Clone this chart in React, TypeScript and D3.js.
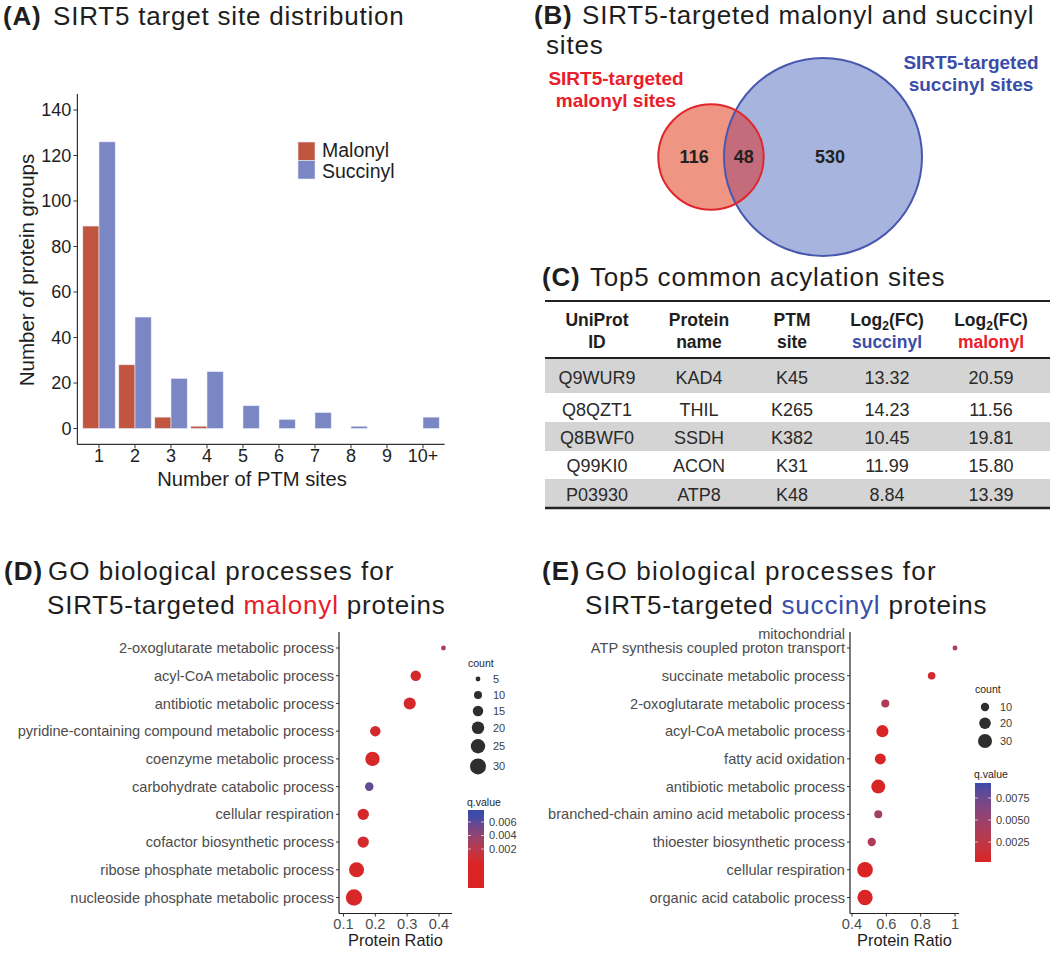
import React from 'react';
import * as d3 from 'd3';

const FONT = "'Liberation Sans', Arial, Helvetica, sans-serif";

// ---------- Panel A data ----------
const siteCategories = ['1', '2', '3', '4', '5', '6', '7', '8', '9', '10+'];
const aSeries = ['Malonyl', 'Succinyl'];
const malonylCounts = [89, 28, 5, 1, 0, 0, 0, 0, 0, 0];
const succinylCounts = [126, 49, 22, 25, 10, 4, 7, 1, 0, 5];
const aYTicks = [0, 20, 40, 60, 80, 100, 120, 140];

// ---------- Panel B data ----------
const vennSets = ['SIRT5-targeted malonyl sites', 'SIRT5-targeted succinyl sites'];
const vennCounts = [116, 48, 530]; // malonyl only, both, succinyl only

// ---------- Panel C data ----------
const tableIds = ['Q9WUR9', 'Q8QZT1', 'Q8BWF0', 'Q99KI0', 'P03930'];
const tableNames = ['KAD4', 'THIL', 'SSDH', 'ACON', 'ATP8'];
const tableSites = ['K45', 'K265', 'K382', 'K31', 'K48'];
const tableSucc = ['13.32', '14.23', '10.45', '11.99', '8.84'];
const tableMal = ['20.59', '11.56', '19.81', '15.80', '13.39'];

// ---------- Panel D data ----------
const dTerms = [
  '2-oxoglutarate metabolic process',
  'acyl-CoA metabolic process',
  'antibiotic metabolic process',
  'pyridine-containing compound metabolic process',
  'coenzyme metabolic process',
  'carbohydrate catabolic process',
  'cellular respiration',
  'cofactor biosynthetic process',
  'ribose phosphate metabolic process',
  'nucleoside phosphate metabolic process',
];
const dRatio = [0.414, 0.327, 0.308, 0.2, 0.191, 0.181, 0.162, 0.162, 0.141, 0.133];
const dCount = [5, 15, 19, 15, 25, 11, 17, 17, 27, 31];
const dQ = [0.0025, 0.0003, 0.0003, 0.0004, 0.0002, 0.0058, 0.0003, 0.0004, 0.0002, 0.0002];
const dXTicks = [0.1, 0.2, 0.3, 0.4];
const dCountBreaks = [5, 10, 15, 20, 25, 30];
const dQBreaks = [0.002, 0.004, 0.006];

// ---------- Panel E data ----------
const eTerms = [
  'mitochondrial\nATP synthesis coupled proton transport',
  'succinate metabolic process',
  '2-oxoglutarate metabolic process',
  'acyl-CoA metabolic process',
  'fatty acid oxidation',
  'antibiotic metabolic process',
  'branched-chain amino acid metabolic process',
  'thioester biosynthetic process',
  'cellular respiration',
  'organic acid catabolic process',
];
const eRatio = [1.0, 0.864, 0.594, 0.577, 0.565, 0.553, 0.553, 0.515, 0.476, 0.476];
const eCount = [3, 8, 9, 22, 18, 30, 9, 10, 38, 36];
const eQ = [0.0037, 0.0008, 0.0036, 0.0004, 0.0004, 0.0004, 0.0044, 0.0035, 0.0003, 0.0003];
const eXTicks = [0.4, 0.6, 0.8, 1.0];
const eCountBreaks = [10, 20, 30];
const eQBreaks = [0.0025, 0.005, 0.0075];

// ---------- colours ----------
const MAL_COL = '#C0563F';
const SUC_COL = '#7B87C4';
const RED_TXT = '#E8202A';
const BLUE_TXT = '#3A4DA8';
const Q_LOW = '#DA2424';
const Q_HIGH = '#3A4BA8';
const TXT = '#1E1E1E';
const GRAY_TXT = '#4D4D4D';

function Title({ x1, x2, y, tag, children, spacing = 0.8 }: any) {
  return (
    <text y={y} fontSize={26} letterSpacing={spacing} fill={TXT}>
      <tspan x={x1} fontWeight="bold">{tag}</tspan>
      <tspan x={x2}>{children}</tspan>
    </text>
  );
}

function PanelA() {
  const x = d3.scaleBand().domain(siteCategories).range([81, 441]);
  const step = x.step();
  const inner = d3.scaleBand().domain(aSeries).range([0, step * 0.9]);
  const y = d3.scaleLinear().domain([0, 140]).range([428.5, 110]);
  const colors = [MAL_COL, SUC_COL];
  const values = [malonylCounts, succinylCounts];
  const left = (x(siteCategories[0]) as number) - step * 0.1;
  const right = (x(siteCategories[siteCategories.length - 1]) as number) + step * 1.1;
  return (
    <g>
      <Title x1={3} x2={53} y={25} tag="(A)">SIRT5 target site distribution</Title>
      {values.map((vals, si) =>
        vals.map((v, i) =>
          v > 0 ? (
            <rect
              key={`${si}-${i}`}
              x={(x(siteCategories[i]) as number) + step * 0.05 + (inner(aSeries[si]) as number)}
              y={y(v)}
              width={inner.bandwidth()}
              height={y(0) - y(v)}
              fill={colors[si]}
              stroke="#E8EAF6"
              strokeWidth={0.6}
            />
          ) : null
        )
      )}
      {/* axes */}
      <line x1={left} x2={left} y1={y(147)} y2={y(-7)} stroke="#333" strokeWidth={1.2} />
      <line x1={left} x2={right} y1={y(-7)} y2={y(-7)} stroke="#333" strokeWidth={1.2} />
      {aYTicks.map((t) => (
        <g key={t}>
          <line x1={left - 4} x2={left} y1={y(t)} y2={y(t)} stroke="#333" strokeWidth={1} />
          <text x={left - 6} y={y(t)} dy="0.35em" textAnchor="end" fontSize={18} fill={TXT}>
            {t}
          </text>
        </g>
      ))}
      {siteCategories.map((c) => {
        const cx = (x(c) as number) + step / 2;
        return (
          <g key={c}>
            <line x1={cx} x2={cx} y1={y(-7)} y2={y(-7) + 4} stroke="#333" strokeWidth={1} />
            <text x={cx} y={461.5} textAnchor="middle" fontSize={18} fill={TXT}>
              {c}
            </text>
          </g>
        );
      })}
      <text x={252} y={486} textAnchor="middle" fontSize={20.2} fill={TXT}>
        Number of PTM sites
      </text>
      <text transform="translate(27,270) rotate(-90)" dy="0.35em" textAnchor="middle" fontSize={20.5} fill={TXT}>
        Number of protein groups
      </text>
      {/* legend */}
      {aSeries.map((s, i) => (
        <g key={s}>
          <rect x={298} y={142 + i * 18.5} width={17} height={18.5} fill={colors[i]} stroke="#E8EAF6" strokeWidth={0.6} />
          <text x={322} y={157 + i * 21} fontSize={19.5} fill={TXT}>
            {s}
          </text>
        </g>
      ))}
    </g>
  );
}

function PanelB() {
  const totals = [vennCounts[0] + vennCounts[1], vennCounts[1] + vennCounts[2]];
  const r = d3.scaleSqrt().domain([0, totals[1]]).range([0, 99]);
  const rR = r(totals[0]);
  const rB = r(totals[1]);
  const bx = 823, by = 157;
  const rx = bx - 112, ry = 157;
  const redOnlyX = (rx - rR + (bx - rB)) / 2 + 3;
  const bothX = (bx - rB + rx + rR) / 2;
  const sucOnlyX = bx + 7;
  const malLines = vennSets[0].replace('targeted ', 'targeted\n').split('\n');
  const sucLines = vennSets[1].replace('targeted ', 'targeted\n').split('\n');
  return (
    <g>
      <Title x1={534} x2={582} y={24} tag="(B)">SIRT5-targeted malonyl and succinyl</Title>
      <text x={546} y={54} fontSize={26} letterSpacing={0.8} fill={TXT}>sites</text>
      <defs>
        <clipPath id="redClip">
          <circle cx={rx} cy={ry} r={rR} />
        </clipPath>
      </defs>
      <circle cx={rx} cy={ry} r={rR} fill="#EE9584" />
      <circle cx={bx} cy={by} r={rB} fill="#A7B4DE" />
      <circle cx={bx} cy={by} r={rB} fill="#C46C7B" clipPath="url(#redClip)" />
      <circle cx={bx} cy={by} r={rB} fill="none" stroke="#4858B0" strokeWidth={2} />
      <circle cx={rx} cy={ry} r={rR} fill="none" stroke="#E0262A" strokeWidth={2} />
      <g fontSize={18} fontWeight="bold" fill="#222" textAnchor="middle">
        <text x={redOnlyX} y={by} dy="0.36em">{vennCounts[0]}</text>
        <text x={bothX} y={by} dy="0.36em">{vennCounts[1]}</text>
        <text x={sucOnlyX} y={by} dy="0.36em">{vennCounts[2]}</text>
      </g>
      <g fontSize={19} fontWeight="bold" textAnchor="middle">
        {malLines.map((l, i) => (
          <text key={l} x={616} y={85 + i * 22} fill={RED_TXT}>{l}</text>
        ))}
        {sucLines.map((l, i) => (
          <text key={l} x={971} y={69 + i * 22} fill={BLUE_TXT}>{l}</text>
        ))}
      </g>
    </g>
  );
}

function PanelC() {
  const cols = [597, 699, 792, 887, 991];
  const rowTops = [359, 393, 422, 451, 479];
  const rowBottoms = [393, 422, 451, 479, 507];
  const baselines = [384, 416, 444, 472, 501];
  const rows = tableIds.map((id, i) => [id, tableNames[i], tableSites[i], tableSucc[i], tableMal[i]]);
  return (
    <g>
      <Title x1={542} x2={590} y={286} tag="(C)">Top5 common acylation sites</Title>
      {rows.map((_, i) =>
        i % 2 === 0 ? (
          <rect key={i} x={545} y={rowTops[i]} width={505} height={rowBottoms[i] - rowTops[i]} fill="#D4D4D4" />
        ) : null
      )}
      <line x1={545} x2={1050} y1={301} y2={301} stroke="#222" strokeWidth={2} />
      <line x1={545} x2={1050} y1={358} y2={358} stroke="#222" strokeWidth={2} />
      <line x1={545} x2={1050} y1={508} y2={508} stroke="#222" strokeWidth={2.5} />
      <g fontSize={17.5} fontWeight="bold" fill={TXT} textAnchor="middle">
        <text x={cols[0]} y={326}>UniProt</text>
        <text x={cols[0]} y={348}>ID</text>
        <text x={cols[1]} y={326}>Protein</text>
        <text x={cols[1]} y={348}>name</text>
        <text x={cols[2]} y={326}>PTM</text>
        <text x={cols[2]} y={348}>site</text>
        <text x={cols[3]} y={326}>
          Log<tspan fontSize={12} dy={4}>2</tspan>
          <tspan dy={-4}>(FC)</tspan>
        </text>
        <text x={cols[3]} y={348} fill={BLUE_TXT}>succinyl</text>
        <text x={cols[4]} y={326}>
          Log<tspan fontSize={12} dy={4}>2</tspan>
          <tspan dy={-4}>(FC)</tspan>
        </text>
        <text x={cols[4]} y={348} fill={RED_TXT}>malonyl</text>
      </g>
      <g fontSize={18} fill="#2A2A2A" textAnchor="middle">
        {rows.map((row, i) =>
          row.map((cell, j) => (
            <text key={`${i}-${j}`} x={cols[j]} y={baselines[i]}>
              {cell}
            </text>
          ))
        )}
      </g>
    </g>
  );
}

function DotPanel({
  id, terms, ratio, count, q, xDomain, xRange, xTicks, axisLeft, axisRight,
  sizeScale, colorScale, countBreaks, countStartY, legendX, countTitleY,
  qBreaks, qLegendScale, barTop, barBottom, qTitleY, tickFmt,
}: any) {
  const y = d3.scalePoint().domain(terms).range([648, 897.5]);
  const x = d3.scaleLinear().domain(xDomain).range(xRange);
  const axisTop = 632, axisBottom = 913.5;
  const keyH = countBreaks.map((c: number) => Math.max(16, 2 * sizeScale(c) + 5));
  const keyY: number[] = [];
  countBreaks.forEach((_: number, i: number) => {
    keyY.push(i === 0 ? countStartY : keyY[i - 1] + (keyH[i - 1] + keyH[i]) / 2);
  });
  const stops = d3.range(0, 1.0001, 0.05).map((t) => {
    const yy = barTop + t * (barBottom - barTop);
    return { t, c: colorScale(qLegendScale.invert(yy)) };
  });
  return (
    <g>
      <defs>
        <linearGradient id={`grad-${id}`} x1="0" y1="0" x2="0" y2="1">
          {stops.map((s: any) => (
            <stop key={s.t} offset={s.t} stopColor={s.c} />
          ))}
        </linearGradient>
      </defs>
      {terms.map((t: string) => {
        const lines = t.split('\n');
        const yy = y(t) as number;
        return (
          <g key={t}>
            {lines.map((l, li) => (
              <text
                key={l}
                x={axisLeft - 5}
                y={yy - (lines.length - 1 - li) * 14.5}
                dy="0.35em"
                textAnchor="end"
                fontSize={14.6}
                fill={GRAY_TXT}
              >
                {l}
              </text>
            ))}
            <line x1={axisLeft - 3} x2={axisLeft} y1={yy} y2={yy} stroke="#333" strokeWidth={1} />
          </g>
        );
      })}
      {terms.map((t: string, i: number) => (
        <circle key={t} cx={x(ratio[i])} cy={y(t) as number} r={sizeScale(count[i])} fill={colorScale(q[i])} />
      ))}
      <line x1={axisLeft} x2={axisLeft} y1={axisTop} y2={axisBottom} stroke="#222" strokeWidth={1.2} />
      <line x1={axisLeft} x2={axisRight} y1={axisBottom} y2={axisBottom} stroke="#222" strokeWidth={1.2} />
      {xTicks.map((t: number) => (
        <g key={t}>
          <line x1={x(t)} x2={x(t)} y1={axisBottom} y2={axisBottom + 3} stroke="#333" strokeWidth={1} />
          <text x={x(t)} y={929} textAnchor="middle" fontSize={14.6} fill={GRAY_TXT}>
            {tickFmt(t)}
          </text>
        </g>
      ))}
      <text x={(axisLeft + axisRight) / 2} y={946} textAnchor="middle" fontSize={16.4} fill={TXT}>
        Protein Ratio
      </text>
      {/* size legend */}
      <text x={legendX} y={countTitleY} fontSize={10.5} fill={TXT}>count</text>
      {countBreaks.map((c: number, i: number) => (
        <g key={c}>
          <circle cx={legendX + 10} cy={keyY[i]} r={sizeScale(c)} fill="#2E2E2E" />
          <text x={legendX + 25} y={keyY[i]} dy="0.35em" fontSize={11} fill="#404040">{c}</text>
        </g>
      ))}
      {/* colour legend */}
      <text x={legendX - 1} y={qTitleY} fontSize={10.5} fill={TXT}>q.value</text>
      <rect x={legendX} y={barTop} width={16} height={barBottom - barTop} fill={`url(#grad-${id})`} />
      {qBreaks.map((b: number) => (
        <g key={b}>
          <line x1={legendX} x2={legendX + 3} y1={qLegendScale(b)} y2={qLegendScale(b)} stroke="#fff" strokeWidth={0.6} />
          <line x1={legendX + 13} x2={legendX + 16} y1={qLegendScale(b)} y2={qLegendScale(b)} stroke="#fff" strokeWidth={0.6} />
          <text x={legendX + 21} y={qLegendScale(b)} dy="0.35em" fontSize={11} fill="#404040">
            {b.toFixed(id === 'e' ? 4 : 3)}
          </text>
        </g>
      ))}
    </g>
  );
}

function PanelD() {
  const size = d3.scaleSqrt().domain([1, 30]).range([0.27, 8]);
  const color = d3.scaleLinear<string>().domain([0, 0.0068]).range([Q_LOW, Q_HIGH]).interpolate(d3.interpolateLab).clamp(true);
  const qLeg = d3.scaleLinear().domain([0.002, 0.006]).range([849, 822]);
  return (
    <g>
      <Title x1={4} x2={48} y={580} tag="(D)" spacing={1.0}>GO biological processes for</Title>
      <text x={47} y={614} fontSize={26} letterSpacing={0.8} fill={TXT}>
        SIRT5-targeted <tspan fill={RED_TXT}>malonyl</tspan> proteins
      </text>
      <DotPanel
        id="d" terms={dTerms} ratio={dRatio} count={dCount} q={dQ}
        xDomain={[0.1, 0.4]} xRange={[343.5, 439]} xTicks={dXTicks}
        axisLeft={339} axisRight={452}
        sizeScale={size} colorScale={color}
        countBreaks={dCountBreaks} countStartY={679} legendX={468} countTitleY={667}
        qBreaks={dQBreaks} qLegendScale={qLeg} barTop={810} barBottom={888} qTitleY={806}
        tickFmt={(t: number) => String(t)}
      />
    </g>
  );
}

function PanelE() {
  const size = d3.scaleSqrt().domain([0, 30]).range([0.375, 7]);
  const color = d3.scaleLinear<string>().domain([0.0002, 0.0092]).range([Q_LOW, Q_HIGH]).interpolate(d3.interpolateLab).clamp(true);
  const qLeg = d3.scaleLinear().domain([0.0025, 0.0075]).range([842, 798]);
  return (
    <g>
      <Title x1={542} x2={585} y={580} tag="(E)" spacing={1.2}>GO biological processes for</Title>
      <text x={585} y={614} fontSize={26} letterSpacing={0.8} fill={TXT}>
        SIRT5-targeted <tspan fill={BLUE_TXT}>succinyl</tspan> proteins
      </text>
      <DotPanel
        id="e" terms={eTerms} ratio={eRatio} count={eCount} q={eQ}
        xDomain={[0.4, 1.0]} xRange={[852, 955]} xTicks={eXTicks}
        axisLeft={850} axisRight={959}
        sizeScale={size} colorScale={color}
        countBreaks={eCountBreaks} countStartY={707} legendX={975} countTitleY={693}
        qBreaks={eQBreaks} qLegendScale={qLeg} barTop={783} barBottom={862} qTitleY={778}
        tickFmt={(t: number) => (t === 1 ? '1' : String(t))}
      />
    </g>
  );
}

export default function App() {
  return (
    <svg
      width={1050}
      height={953}
      viewBox="0 0 1050 953"
      style={{ position: 'absolute', left: 0, top: 0, background: '#fff', fontFamily: FONT }}
    >
      <rect width={1050} height={953} fill="#fff" />
      <PanelA />
      <PanelB />
      <PanelC />
      <PanelD />
      <PanelE />
    </svg>
  );
}
